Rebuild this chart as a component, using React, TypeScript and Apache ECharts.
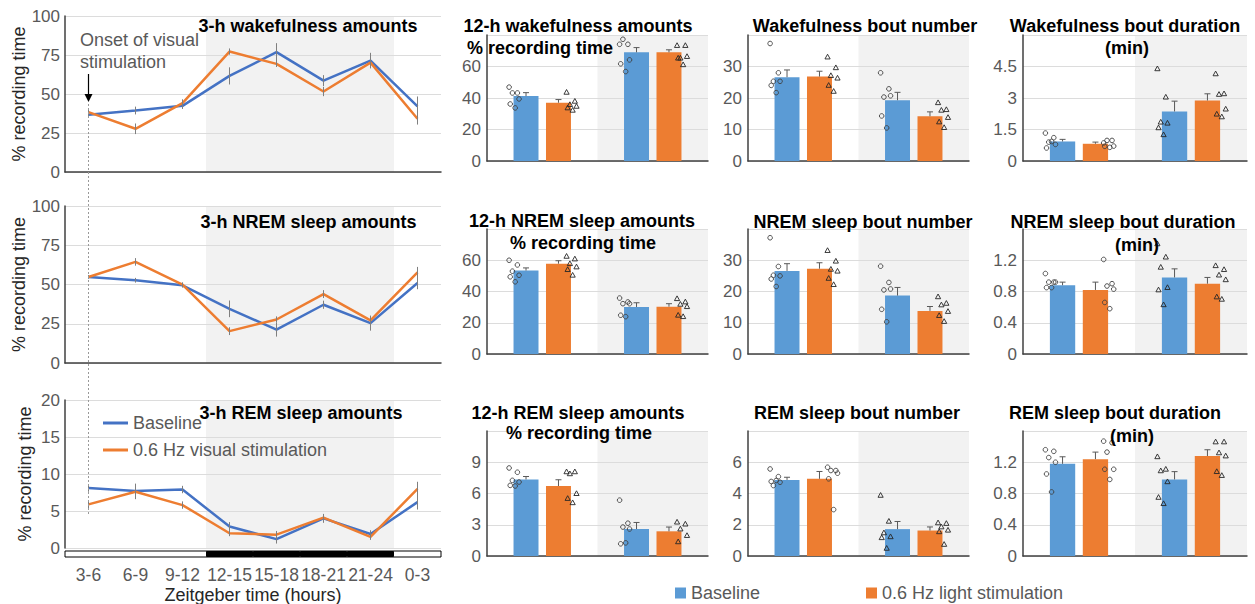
import React, { useEffect, useRef } from "react";
import * as echarts from "echarts";

// ---------------- DATA ----------------
const zeitgeberBins = ["3-6", "6-9", "9-12", "12-15", "15-18", "18-21", "21-24", "0-3"];
const darkPhase = [0, 0, 0, 1, 1, 1, 1, 0];

const wake3hBaseline = [36.7, 39.4, 42.4, 61.6, 76.8, 58.6, 71.4, 42.0];
const wake3hBaselineErr = [2.0, 2.5, 2.0, 5.5, 5.8, 3.5, 5.0, 6.4];
const wake3hStim = [38.4, 27.7, 44.1, 77.2, 69.3, 51.6, 70.1, 34.1];
const wake3hStimErr = [2.0, 3.4, 2.5, 2.0, 2.0, 3.0, 2.5, 3.7];

const nrem3hBaseline = [54.8, 52.7, 49.5, 34.5, 21.3, 37.1, 25.4, 51.0];
const nrem3hBaselineErr = [1.0, 1.5, 1.5, 5.3, 4.5, 2.6, 4.8, 4.0];
const nrem3hStim = [54.8, 64.4, 49.9, 20.3, 27.7, 43.9, 27.1, 57.8];
const nrem3hStimErr = [1.0, 2.4, 1.5, 2.5, 2.0, 2.5, 2.0, 3.4];

const rem3hBaseline = [8.1, 7.7, 7.9, 2.9, 1.2, 4.0, 1.9, 6.2];
const rem3hBaselineErr = [0.5, 1.0, 0.5, 0.6, 0.6, 0.6, 0.5, 1.0];
const rem3hStim = [5.9, 7.6, 5.8, 2.0, 1.8, 4.1, 1.5, 8.0];
const rem3hStimErr = [0.5, 1.0, 0.5, 0.4, 0.5, 0.5, 0.4, 0.95];

const phases = ["Light phase", "Dark phase"];
const phaseIsDark = [0, 1];

const wake12hBaseline = [41.2, 69.0];
const wake12hBaselineSem = [2.2, 3.0];
const wake12hStim = [37.0, 69.0];
const wake12hStimSem = [2.0, 1.6];
const wake12hBaselineAnimals = [[46.9, 43.2, 43.2, 39.4, 36.2, 33.7], [74.1, 74.1, 77.3, 64.2, 61.7, 56.8]];
const wake12hStimAnimals = [[43.6, 37.9, 35.8, 34.7, 33.7, 32.2], [73.3, 73.3, 65.3, 66.3, 65.3, 61.1]];

const wakeBoutNumBaseline = [26.6, 19.3];
const wakeBoutNumBaselineSem = [2.3, 2.5];
const wakeBoutNumStim = [26.8, 14.2];
const wakeBoutNumStimSem = [1.7, 1.4];
const wakeBoutNumBaselineAnimals = [[37.3, 28.0, 25.3, 25.3, 24.0, 21.7], [28.0, 22.9, 20.3, 20.7, 14.3, 10.5]];
const wakeBoutNumStimAnimals = [[33.0, 29.6, 27.1, 26.3, 24.0, 22.1], [18.5, 16.3, 16.1, 13.8, 12.4, 10.6]];

const wakeBoutDurBaseline = [0.93, 2.36];
const wakeBoutDurBaselineSem = [0.1, 0.49];
const wakeBoutDurStim = [0.82, 2.88];
const wakeBoutDurStimSem = [0.08, 0.32];
const wakeBoutDurBaselineAnimals = [[1.33, 1.11, 0.9, 0.79, 0.62, 0.93], [4.39, 3.04, 1.85, 1.8, 1.58, 1.25]];
const wakeBoutDurStimAnimals = [[0.86, 0.98, 0.98, 0.71, 0.7, 0.65], [4.15, 3.2, 3.17, 2.47, 2.23, 2.1]];

const nrem12hBaseline = [53.4, 30.1];
const nrem12hBaselineSem = [1.7, 2.7];
const nrem12hStim = [57.8, 30.3];
const nrem12hStimSem = [1.9, 1.9];
const nrem12hBaselineAnimals = [[60.0, 57.0, 53.0, 50.4, 49.4, 46.2], [35.8, 33.3, 32.2, 32.2, 24.8, 23.9]];
const nrem12hStimAnimals = [[62.5, 60.8, 57.8, 55.7, 54.0, 50.4], [35.4, 33.3, 31.8, 30.3, 24.8, 23.9]];

const nremBoutNumBaseline = [26.6, 18.7];
const nremBoutNumBaselineSem = [2.3, 2.6];
const nremBoutNumStim = [27.3, 13.8];
const nremBoutNumStimSem = [1.9, 1.4];
const nremBoutNumBaselineAnimals = [[37.2, 28.0, 25.2, 25.0, 24.0, 21.6], [28.1, 22.9, 20.5, 20.8, 14.3, 10.3]];
const nremBoutNumStimAnimals = [[33.1, 29.7, 27.1, 26.5, 24.2, 22.2], [18.3, 16.2, 15.7, 13.6, 12.3, 10.4]];

const nremBoutDurBaseline = [0.88, 0.98];
const nremBoutDurBaselineSem = [0.04, 0.11];
const nremBoutDurStim = [0.82, 0.9];
const nremBoutDurStimSem = [0.1, 0.08];
const nremBoutDurBaselineAnimals = [[1.03, 0.92, 0.92, 0.92, 0.85, 0.85], [1.41, 1.24, 1.11, 0.85, 0.82, 0.63]];
const nremBoutDurStimAnimals = [[1.21, 0.9, 0.87, 0.83, 0.66, 0.58], [1.13, 1.08, 1.01, 0.95, 0.73, 0.7]];

const rem12hBaseline = [7.35, 2.59];
const rem12hBaselineSem = [0.28, 0.63];
const rem12hStim = [6.72, 2.37];
const rem12hStimSem = [0.6, 0.41];
const rem12hBaselineAnimals = [[8.45, 8.04, 7.26, 7.1, 6.78, 6.72], [5.36, 3.15, 2.78, 2.59, 1.17, 1.26]];
const rem12hStimAnimals = [[8.08, 8.08, 7.89, 5.99, 5.52, 5.11], [3.25, 3.06, 2.59, 1.96, 1.36]];

const remBoutNumBaseline = [4.87, 1.72];
const remBoutNumBaselineSem = [0.17, 0.49];
const remBoutNumStim = [4.94, 1.63];
const remBoutNumStimSem = [0.47, 0.23];
const remBoutNumBaselineAnimals = [[5.57, 5.08, 4.51, 4.72, 4.77, 4.83], [3.88, 2.22, 1.48, 1.23, 1.17, 0.49]];
const remBoutNumStimAnimals = [[5.68, 5.47, 5.47, 5.3, 4.94, 2.97], [2.12, 2.08, 1.86, 1.65, 1.55, 0.74]];

const remBoutDurBaseline = [1.18, 0.98];
const remBoutDurBaselineSem = [0.09, 0.1];
const remBoutDurStim = [1.24, 1.28];
const remBoutDurStimSem = [0.09, 0.08];
const remBoutDurBaselineAnimals = [[1.36, 1.34, 1.26, 1.2, 1.05, 0.82], [1.27, 1.11, 1.09, 0.95, 0.75, 0.67]];
const remBoutDurStimAnimals = [[1.47, 1.45, 1.33, 1.11, 1.11, 0.98], [1.46, 1.46, 1.32, 1.28, 1.08, 1.03]];

// ---------------- STYLE / LAYOUT ----------------
const FONT = "'Liberation Sans', Arial, Helvetica, sans-serif";
const BLUE_LINE = "#4472c4";
const ORANGE = "#ed7d31";
const BLUE_BAR = "#5b9bd5";
const SHADE = "#f2f2f2";
const GRID_LINE = "#dcdcdc";
const AXIS_LINE = "#404040";
const LABEL = "#595959";
const ERR = "#7f7f7f";

const LINE_GRIDS = [
  { left: 65, top: 16, width: 376, height: 156 },
  { left: 65, top: 206, width: 376, height: 157 },
  { left: 65, top: 400, width: 376, height: 148 },
];
const STRIP_GRID = { left: 65, top: 551, width: 376, height: 6 };
const COLS = [
  { left: 487, width: 221 },
  { left: 748, width: 221 },
  { left: 1023, width: 224 },
];
const ROWS = [
  { top: 35, height: 126 },
  { top: 229, height: 125 },
  { top: 431, height: 125 },
];
const BAR_W = 0.226;
const BAR_GAP = 0.3;
const BAR_CENTER = BAR_W / 2 + (BAR_W * BAR_GAP) / 2;
const POINT_EDGE = 0.26;
const JITTER = [-0.04, 0.035, -0.01, 0.05, -0.03, 0.015, 0.0];

const linePanels = [
  { base: wake3hBaseline, baseErr: wake3hBaselineErr, stim: wake3hStim, stimErr: wake3hStimErr, yMax: 100, yStep: 25 },
  { base: nrem3hBaseline, baseErr: nrem3hBaselineErr, stim: nrem3hStim, stimErr: nrem3hStimErr, yMax: 100, yStep: 25 },
  { base: rem3hBaseline, baseErr: rem3hBaselineErr, stim: rem3hStim, stimErr: rem3hStimErr, yMax: 20, yStep: 5 },
];

const barPanels = [
  { base: wake12hBaseline, baseSem: wake12hBaselineSem, stim: wake12hStim, stimSem: wake12hStimSem, baseAn: wake12hBaselineAnimals, stimAn: wake12hStimAnimals, yMax: 80, yStep: 20, marker: "group" },
  { base: wakeBoutNumBaseline, baseSem: wakeBoutNumBaselineSem, stim: wakeBoutNumStim, stimSem: wakeBoutNumStimSem, baseAn: wakeBoutNumBaselineAnimals, stimAn: wakeBoutNumStimAnimals, yMax: 40, yStep: 10, marker: "group" },
  { base: wakeBoutDurBaseline, baseSem: wakeBoutDurBaselineSem, stim: wakeBoutDurStim, stimSem: wakeBoutDurStimSem, baseAn: wakeBoutDurBaselineAnimals, stimAn: wakeBoutDurStimAnimals, yMax: 6, yStep: 1.5, marker: "phase" },
  { base: nrem12hBaseline, baseSem: nrem12hBaselineSem, stim: nrem12hStim, stimSem: nrem12hStimSem, baseAn: nrem12hBaselineAnimals, stimAn: nrem12hStimAnimals, yMax: 80, yStep: 20, marker: "group" },
  { base: nremBoutNumBaseline, baseSem: nremBoutNumBaselineSem, stim: nremBoutNumStim, stimSem: nremBoutNumStimSem, baseAn: nremBoutNumBaselineAnimals, stimAn: nremBoutNumStimAnimals, yMax: 40, yStep: 10, marker: "group" },
  { base: nremBoutDurBaseline, baseSem: nremBoutDurBaselineSem, stim: nremBoutDurStim, stimSem: nremBoutDurStimSem, baseAn: nremBoutDurBaselineAnimals, stimAn: nremBoutDurStimAnimals, yMax: 1.6, yStep: 0.4, marker: "phase" },
  { base: rem12hBaseline, baseSem: rem12hBaselineSem, stim: rem12hStim, stimSem: rem12hStimSem, baseAn: rem12hBaselineAnimals, stimAn: rem12hStimAnimals, yMax: 12, yStep: 3, marker: "group" },
  { base: remBoutNumBaseline, baseSem: remBoutNumBaselineSem, stim: remBoutNumStim, stimSem: remBoutNumStimSem, baseAn: remBoutNumBaselineAnimals, stimAn: remBoutNumStimAnimals, yMax: 8, yStep: 2, marker: "phase" },
  { base: remBoutDurBaseline, baseSem: remBoutDurBaselineSem, stim: remBoutDurStim, stimSem: remBoutDurStimSem, baseAn: remBoutDurBaselineAnimals, stimAn: remBoutDurStimAnimals, yMax: 1.6, yStep: 0.4, marker: "phase" },
];

const TITLES = [
  { text: "3-h wakefulness amounts", x: 308, y: 26 },
  { text: "3-h NREM sleep amounts", x: 308.5, y: 222 },
  { text: "3-h REM sleep amounts", x: 301, y: 413 },
  { text: "12-h wakefulness amounts", x: 578, y: 26 },
  { text: "% recording time", x: 540, y: 48 },
  { text: "Wakefulness bout number", x: 865, y: 26 },
  { text: "Wakefulness bout duration", x: 1125, y: 26 },
  { text: "(min)", x: 1127, y: 48 },
  { text: "12-h NREM sleep amounts", x: 582, y: 221 },
  { text: "% recording time", x: 583, y: 243 },
  { text: "NREM sleep bout number", x: 863, y: 222 },
  { text: "NREM sleep bout duration", x: 1123, y: 222 },
  { text: "(min)", x: 1137, y: 245 },
  { text: "12-h REM sleep amounts", x: 578, y: 413 },
  { text: "% recording time", x: 579, y: 433 },
  { text: "REM sleep bout number", x: 857, y: 413 },
  { text: "REM sleep bout duration", x: 1115, y: 413 },
  { text: "(min)", x: 1132, y: 436 },
];

// ---------------- SERIES HELPERS ----------------
const lineErrSeries = (idx: number, means: number[], errs: number[]) => ({
  type: "custom",
  xAxisIndex: idx,
  yAxisIndex: idx,
  silent: true,
  z: 4,
  data: means.map((m, i) => [i, m, errs[i]]),
  encode: { x: 0, y: 1 },
  renderItem: (_p: any, api: any) => {
    const i = api.value(0), m = api.value(1), e = api.value(2);
    const hi = api.coord([i, m + e]);
    const lo = api.coord([i, m - e]);
    return { type: "line", shape: { x1: hi[0], y1: hi[1], x2: lo[0], y2: lo[1] }, style: { stroke: ERR, lineWidth: 1 } };
  },
});

const barErrSeries = (idx: number, means: number[], sems: number[], side: number) => ({
  type: "custom",
  xAxisIndex: idx,
  yAxisIndex: idx,
  silent: true,
  z: 4,
  data: means.map((m, i) => [i, m, sems[i]]),
  encode: { x: 0, y: 1 },
  renderItem: (_p: any, api: any) => {
    const i = api.value(0), m = api.value(1), e = api.value(2);
    const band = api.size([1, 0])[0];
    const b = api.coord([i, m]);
    const t = api.coord([i, m + e]);
    const x = b[0] + side * BAR_CENTER * band;
    const st = { stroke: LABEL, lineWidth: 1 };
    return {
      type: "group",
      children: [
        { type: "line", shape: { x1: x, y1: b[1], x2: x, y2: t[1] }, style: st },
        { type: "line", shape: { x1: x - 3, y1: t[1], x2: x + 3, y2: t[1] }, style: st },
      ],
    };
  },
});

const pointSeries = (idx: number, animals: number[][], side: number, marker: string) => ({
  type: "custom",
  xAxisIndex: idx,
  yAxisIndex: idx,
  silent: true,
  z: 5,
  data: animals.flatMap((arr, ci) => arr.map((v, k) => [ci, v, k])),
  encode: { x: 0, y: 1 },
  renderItem: (_p: any, api: any) => {
    const ci = api.value(0), v = api.value(1), k = api.value(2);
    const band = api.size([1, 0])[0];
    const p = api.coord([ci, v]);
    const x = p[0] + band * (side * POINT_EDGE + JITTER[k % JITTER.length]);
    const y = p[1];
    const tri = marker === "phase" ? phaseIsDark[ci] === 1 : side === 1;
    if (tri) {
      return {
        type: "polygon",
        shape: { points: [[x, y - 2.8], [x + 2.6, y + 1.9], [x - 2.6, y + 1.9]] },
        style: { fill: "none", stroke: "#262626", lineWidth: 0.9 },
      };
    }
    return { type: "circle", shape: { cx: x, cy: y, r: 2.3 }, style: { fill: "none", stroke: "#404040", lineWidth: 0.9 } };
  },
});

function buildOption() {
  const grid: any[] = [];
  const xAxis: any[] = [];
  const yAxis: any[] = [];
  const series: any[] = [];
  const shadeAxes: any[] = [];
  const axisLabelStyle = { color: LABEL, fontSize: 17, fontFamily: FONT };

  linePanels.forEach((p, i) => {
    grid.push({ ...LINE_GRIDS[i], containLabel: false, outerBoundsMode: "none" });
    xAxis.push({
      type: "category", gridIndex: i, data: zeitgeberBins, boundaryGap: true,
      axisLine: { show: i < 2, onZero: false, lineStyle: { color: AXIS_LINE, width: 1.5 } },
      axisTick: { show: false }, axisLabel: { show: false }, splitLine: { show: false },
    });
    yAxis.push({
      type: "value", gridIndex: i, min: 0, max: p.yMax, interval: p.yStep,
      name: "% recording time", nameLocation: "middle", nameGap: 31, nameRotate: 90,
      nameTextStyle: { color: "#262626", fontSize: 18, fontFamily: FONT },
      axisLine: { show: true, lineStyle: { color: AXIS_LINE, width: 1.5 } },
      axisTick: { show: false },
      axisLabel: { ...axisLabelStyle, margin: 5 },
      splitLine: { show: true, lineStyle: { color: GRID_LINE, width: 1 } },
    });
    series.push({
      type: "bar", name: "dark phase", xAxisIndex: i, yAxisIndex: i, barWidth: "100%", silent: true, z: -1,
      itemStyle: { color: SHADE, borderColor: SHADE, borderWidth: 1.5 },
      data: darkPhase.map((d) => (d ? p.yMax : "-")),
    });
    series.push({
      type: "line", name: "Baseline", xAxisIndex: i, yAxisIndex: i, data: p.base, symbol: "none", silent: true, z: 3,
      lineStyle: { color: BLUE_LINE, width: 2.5 }, itemStyle: { color: BLUE_LINE },
    });
    series.push({
      type: "line", name: "0.6 Hz visual stimulation", xAxisIndex: i, yAxisIndex: i, data: p.stim, symbol: "none", silent: true, z: 3,
      lineStyle: { color: ORANGE, width: 2.5 }, itemStyle: { color: ORANGE },
    });
    series.push(lineErrSeries(i, p.base, p.baseErr));
    series.push(lineErrSeries(i, p.stim, p.stimErr));
  });

  // light / dark strip
  grid.push({ ...STRIP_GRID, show: true, backgroundColor: "#fff", borderColor: "#000", borderWidth: 1, containLabel: false, outerBoundsMode: "none" });
  xAxis.push({
    type: "category", gridIndex: 3, data: zeitgeberBins,
    axisLine: { show: false }, axisTick: { show: false },
    axisLabel: { color: LABEL, fontSize: 17.5, fontFamily: FONT, margin: 9, interval: 0 },
    name: "Zeitgeber time (hours)", nameLocation: "middle", nameGap: 29,
    nameTextStyle: { color: "#262626", fontSize: 18, fontFamily: FONT },
  });
  yAxis.push({ type: "value", gridIndex: 3, min: 0, max: 1, show: false });
  series.push({
    type: "bar", name: "dark strip", xAxisIndex: 3, yAxisIndex: 3, barWidth: "100%", silent: true,
    itemStyle: { color: "#000", borderColor: "#000", borderWidth: 1 }, data: darkPhase.map((d) => (d ? 1 : "-")),
  });

  barPanels.forEach((p, j) => {
    const gi = 4 + j;
    const col = COLS[j % 3];
    const row = ROWS[Math.floor(j / 3)];
    grid.push({ left: col.left, width: col.width, top: row.top, height: row.height, containLabel: false, outerBoundsMode: "none" });
    xAxis.push({
      type: "category", gridIndex: gi, data: phases,
      axisLine: { show: true, onZero: false, lineStyle: { color: AXIS_LINE, width: 1.5 } },
      axisTick: { show: false }, axisLabel: { show: false }, splitLine: { show: false },
    });
    shadeAxes.push({ type: "category", gridIndex: gi, data: phases, show: false });
    yAxis.push({
      type: "value", gridIndex: gi, min: 0, max: p.yMax, interval: p.yStep,
      axisLine: { show: true, lineStyle: { color: AXIS_LINE, width: 1.5 } },
      axisTick: { show: false },
      axisLabel: { ...axisLabelStyle, margin: 6, showMaxLabel: false },
      splitLine: { show: true, lineStyle: { color: GRID_LINE, width: 1 } },
    });
    series.push({
      type: "bar", name: "dark phase", xAxisIndex: 13 + j, yAxisIndex: gi, barWidth: "100%", silent: true, z: -1,
      itemStyle: { color: SHADE }, data: phaseIsDark.map((d) => (d ? p.yMax : "-")),
    });
    series.push({
      type: "bar", name: "Baseline (bars)", xAxisIndex: gi, yAxisIndex: gi, data: p.base, silent: true, z: 2,
      barWidth: BAR_W * 100 + "%", barGap: BAR_GAP * 100 + "%", itemStyle: { color: BLUE_BAR },
    });
    series.push({
      type: "bar", name: "0.6 Hz light stimulation", xAxisIndex: gi, yAxisIndex: gi, data: p.stim, silent: true, z: 2,
      barWidth: BAR_W * 100 + "%", barGap: BAR_GAP * 100 + "%", itemStyle: { color: ORANGE },
    });
    series.push(barErrSeries(gi, p.base, p.baseSem, -1));
    series.push(barErrSeries(gi, p.stim, p.stimSem, 1));
    series.push(pointSeries(gi, p.baseAn, -1, p.marker));
    series.push(pointSeries(gi, p.stimAn, 1, p.marker));
  });

  const legendText = { color: LABEL, fontSize: 18, fontFamily: FONT };
  return {
    animation: false,
    backgroundColor: "#fff",
    textStyle: { fontFamily: FONT },
    grid,
    xAxis: xAxis.concat(shadeAxes),
    yAxis,
    series,
    legend: [
      {
        data: ["Baseline", "0.6 Hz visual stimulation"], orient: "vertical", left: 103, top: 414, padding: 0,
        itemWidth: 25, itemHeight: 3, itemGap: 9, icon: "rect", textStyle: legendText, selectedMode: false,
      },
      {
        data: ["Baseline (bars)"], left: 675, top: 584, padding: 0, itemWidth: 11, itemHeight: 11, icon: "rect",
        formatter: () => "Baseline", textStyle: legendText, selectedMode: false,
      },
      {
        data: ["0.6 Hz light stimulation"], left: 866, top: 584, padding: 0, itemWidth: 11, itemHeight: 11, icon: "rect",
        textStyle: legendText, selectedMode: false,
      },
    ],
  };
}

function textEl(text: string, x: number, y: number, opts: any) {
  return {
    type: "text", x, y, silent: true, z: 100,
    style: {
      text, fontFamily: FONT, fontSize: 18, fill: "#000",
      align: opts.align || "center", verticalAlign: "middle",
      textAlign: opts.align || "center", textVerticalAlign: "middle",
      fontWeight: opts.bold ? "bold" : "normal", ...(opts.fill ? { fill: opts.fill } : {}),
    },
  };
}

export default function App() {
  const ref = useRef<HTMLDivElement>(null);
  useEffect(() => {
    if (!ref.current) return;
    const chart = echarts.init(ref.current, undefined, { renderer: "svg" });
    chart.setOption(buildOption() as any);
    const onsetX = chart.convertToPixel({ xAxisIndex: 0 } as any, zeitgeberBins[0]) as unknown as number;
    const graphic: any[] = TITLES.map((t) => textEl(t.text, t.x, t.y, { bold: true }));
    graphic.push(textEl("Onset of visual", 80, 40, { align: "left", fill: LABEL }));
    graphic.push(textEl("stimulation", 80, 62, { align: "left", fill: LABEL }));
    graphic.push({ type: "line", silent: true, z: 100, shape: { x1: onsetX, y1: 74, x2: onsetX, y2: 95 }, style: { stroke: "#000", lineWidth: 1.2 } });
    graphic.push({ type: "polygon", silent: true, z: 100, shape: { points: [[onsetX - 4, 94], [onsetX + 4, 94], [onsetX, 102]] }, style: { fill: "#000" } });
    graphic.push({ type: "line", silent: true, z: 100, shape: { x1: onsetX, y1: 104, x2: onsetX, y2: 516 }, style: { stroke: "#999", lineWidth: 1, lineDash: [2, 2] } });
    chart.setOption({ graphic });
    return () => chart.dispose();
  }, []);
  return <div ref={ref} style={{ position: "absolute", left: 0, top: 0, width: 1255, height: 604 }} />;
}
